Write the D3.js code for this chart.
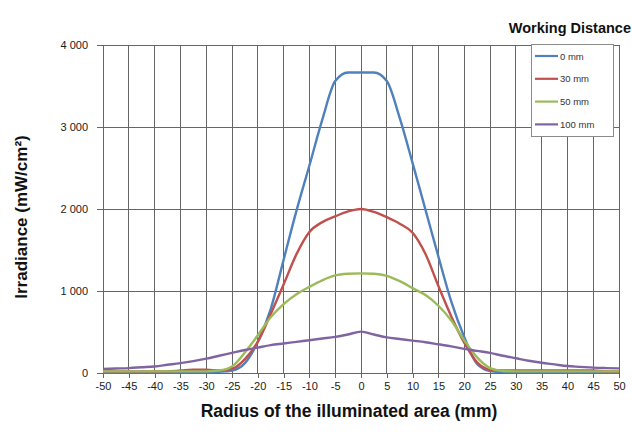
<!DOCTYPE html>
<html><head><meta charset="utf-8">
<script src="https://cdn.jsdelivr.net/npm/d3@7/dist/d3.min.js"></script>
<style>
html,body{margin:0;padding:0;background:#fff;}
svg{display:block;font-family:"Liberation Sans",Arial,sans-serif;}
</style></head>
<body>
<svg id="chart" width="632" height="436"></svg>
<script>
// ---- data ----
const radius = [-50,-47.5,-45,-42.5,-40,-37.5,-35,-32.5,-30,-27.5,-25,-22.5,-20,-17.5,-15,-12.5,-10,-7.5,-5,-2.5,0,2.5,5,7.5,10,12.5,15,17.5,20,22.5,25,27.5,30,32.5,35,37.5,40,42.5,45,47.5,50];
const wd0   = [10,10,10,10,10,10,10,10,10,15,30,120,380,780,1380,1980,2530,3090,3560,3665,3665,3665,3560,3110,2560,1990,1420,870,440,110,25,12,10,10,10,10,10,10,10,10,10];
const wd30  = [20,20,20,20,20,20,30,40,40,30,50,170,380,720,1080,1450,1720,1840,1910,1970,2000,1965,1900,1820,1710,1450,1060,690,370,130,40,30,30,30,30,30,30,30,30,20,20];
const wd50  = [20,20,20,20,20,20,20,20,20,30,80,250,460,680,840,960,1050,1130,1190,1210,1215,1210,1185,1120,1035,950,820,640,400,190,60,25,20,20,20,20,20,20,20,20,20];
const wd100 = [50,55,60,70,80,100,120,145,175,210,245,280,310,340,360,380,400,420,440,470,505,470,435,415,395,375,350,325,295,270,245,210,180,150,125,105,85,75,65,60,57];
const seriesNames = ["0 mm","30 mm","50 mm","100 mm"];
const seriesColors = ["#4f81bd","#c0504d","#9bbb59","#8064a2"];
const xTicks = [-50,-45,-40,-35,-30,-25,-20,-15,-10,-5,0,5,10,15,20,25,30,35,40,45,50];
const yTicks = [0,1000,2000,3000,4000];
const yTickLabels = ["0","1 000","2 000","3 000","4 000"];
const legendTitle = "Working Distance";
const xTitle = "Radius of the illuminated area (mm)";
const yTitle = "Irradiance (mW/cm²)";

// ---- chart ----
const svg = d3.select("#chart");
const x = d3.scaleLinear().domain([-50,50]).range([103,619]);
const y = d3.scaleLinear().domain([0,4000]).range([373,45]);
const gridColor = "#666";

// grid
svg.append("g").selectAll("line").data(xTicks).join("line")
  .attr("x1",d=>x(d)).attr("x2",d=>x(d)).attr("y1",y(0)).attr("y2",y(4000))
  .attr("stroke",gridColor).attr("stroke-width",1).attr("shape-rendering","crispEdges");
svg.append("g").selectAll("line").data(yTicks).join("line")
  .attr("x1",x(-50)).attr("x2",x(50)).attr("y1",d=>y(d)).attr("y2",d=>y(d))
  .attr("stroke",gridColor).attr("stroke-width",1).attr("shape-rendering","crispEdges");

// axes
const xAxis = d3.axisBottom(x).tickValues(xTicks).tickSize(5).tickPadding(4).tickFormat(d=>d);
const gx = svg.append("g").attr("transform",`translate(0,${y(0)})`).call(xAxis);
const yAxis = d3.axisLeft(y).tickValues(yTicks).tickSize(6).tickPadding(9)
  .tickFormat(d=>yTickLabels[yTicks.indexOf(d)]);
const gy = svg.append("g").attr("transform",`translate(${x(-50)},0)`).call(yAxis);
[gx,gy].forEach(g=>{
  g.select(".domain").attr("stroke",gridColor).attr("shape-rendering","crispEdges");
  g.selectAll(".tick line").attr("stroke",gridColor).attr("shape-rendering","crispEdges");
  g.selectAll(".tick text").attr("fill","#1a1a1a").style("font-size","11px")
   .style("font-family","'Liberation Sans',Arial,sans-serif");
});

// lines
const allSeries = [wd0,wd30,wd50,wd100];
const line = d3.line().x((d,i)=>x(radius[i])).y(d=>y(d)).curve(d3.curveMonotoneX);
svg.append("g").selectAll("path").data(allSeries).join("path")
  .attr("d",line).attr("fill","none")
  .attr("stroke",(d,i)=>seriesColors[i]).attr("stroke-width",2.4)
  .attr("stroke-linejoin","round");

// legend
const lg = svg.append("g");
lg.append("rect").attr("x",531.5).attr("y",44.5).attr("width",82).attr("height",92)
  .attr("fill","#fff").attr("stroke","#8a8a8a").attr("stroke-width",1);
const rows = lg.selectAll("g.row").data(seriesNames).join("g")
  .attr("transform",(d,i)=>`translate(0,${56+i*22.8})`);
rows.append("line").attr("x1",535).attr("x2",558).attr("y1",0).attr("y2",0)
  .attr("stroke",(d,i)=>seriesColors[i]).attr("stroke-width",2.2);
rows.append("text").attr("x",560).attr("y",3.5).text(d=>d)
  .attr("fill","#333").style("font-size","9.5px");

svg.append("text").attr("x",631).attr("y",33).attr("text-anchor","end")
  .style("font-size","14.5px").style("font-weight","bold").attr("fill","#111").text(legendTitle);

// titles
svg.append("text").attr("x",349).attr("y",417).attr("text-anchor","middle")
  .style("font-size","17.5px").style("font-weight","bold").attr("fill","#111").text(xTitle);
svg.append("text").attr("transform","translate(27,217) rotate(-90)").attr("text-anchor","middle")
  .style("font-size","17px").style("font-weight","bold").attr("fill","#111").text(yTitle);
</script>
</body></html>
